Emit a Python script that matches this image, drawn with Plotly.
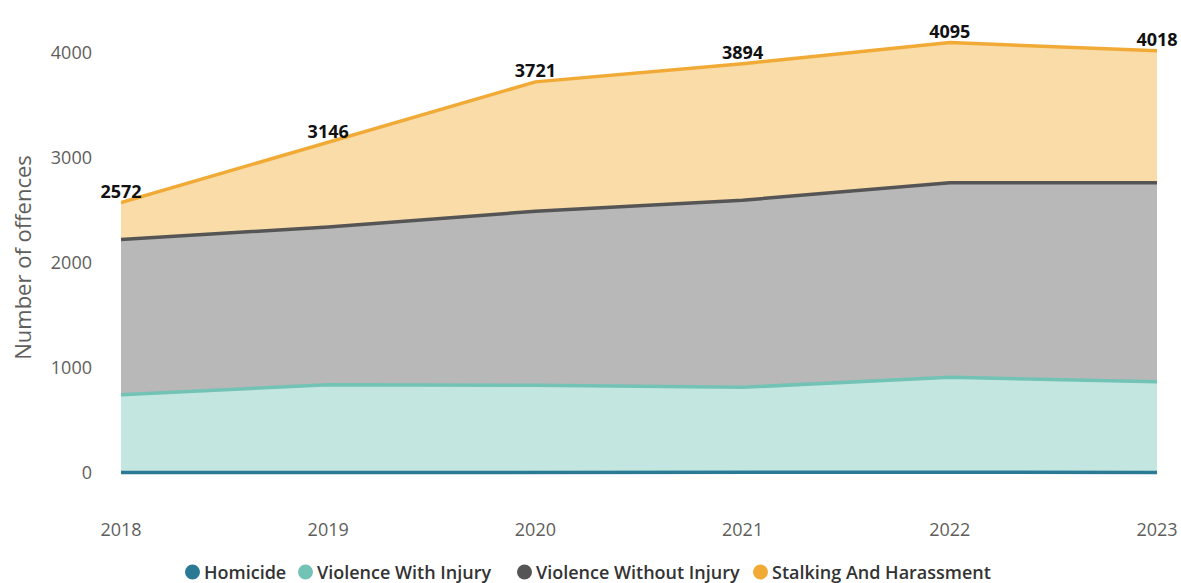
import plotly.graph_objects as go

years = [2018, 2019, 2020, 2021, 2022, 2023]
homicide = [4, 6, 5, 3, 7, 5]
violence_with_injury = [741, 834, 830, 812, 903, 863]
violence_without_injury = [1477, 1500, 1655, 1780, 1850, 1892]
stalking_harassment = [350, 806, 1231, 1299, 1335, 1258]
totals = [h + a + b + c for h, a, b, c in zip(homicide, violence_with_injury,
                                                violence_without_injury, stalking_harassment)]

series = [
    ("Homicide", homicide, "#2b7a95", "rgba(43,122,149,0.35)"),
    ("Violence With Injury", violence_with_injury, "#72c3b5", "#c4e6e0"),
    ("Violence Without Injury", violence_without_injury, "#555555", "#b8b8b8"),
    ("Stalking And Harassment", stalking_harassment, "#f0aa35", "#f9dca8"),
]

# legend layout (pixel x of each legend dot's left edge)
legend_dot_left_px = [185, 298, 517, 753]

W, H = 1181, 583
ML, MR, MT, MB = 121, 24, 21, 89
plot_w = W - ML - MR
plot_h = H - MT - MB

fig = go.Figure()
for i, (name, vals, lc, fc) in enumerate(series):
    last = i == len(series) - 1
    fig.add_trace(go.Scatter(
        x=years, y=vals, name=name, stackgroup="one",
        mode="lines+text" if last else "lines",
        line=dict(color=lc, width=3.5),
        fillcolor=fc,
        text=[str(t) for t in totals] if last else None,
        textposition="top center",
        textfont=dict(family="Open Sans, sans-serif", size=18, color="#111111", weight="bold"),
        showlegend=False,
        cliponaxis=False,
    ))

# custom compact legend: coloured dot + label
legend_y_px = 572
ly = (H - MB - legend_y_px) / plot_h
for (name, _, lc, _), dx in zip(series, legend_dot_left_px):
    px = (dx - ML) / plot_w
    fig.add_shape(type="circle", xref="paper", yref="paper",
                  xsizemode="pixel", ysizemode="pixel",
                  xanchor=px, yanchor=ly, x0=0, x1=15, y0=-7.5, y1=7.5,
                  fillcolor=lc, line=dict(width=0), layer="above")
    fig.add_annotation(
        text=name, xref="paper", yref="paper", x=(dx + 18 - ML) / plot_w, y=ly,
        xanchor="left", yanchor="middle", showarrow=False, borderpad=0,
        font=dict(family="Open Sans, sans-serif", size=18, color="#333333", weight=600),
    )

fig.update_layout(
    width=W, height=H,
    paper_bgcolor="white", plot_bgcolor="white",
    margin=dict(l=ML, r=MR, t=MT, b=MB),
    font=dict(family="Open Sans, sans-serif", color="#605e5c"),
    showlegend=False,
    xaxis=dict(range=[2018, 2023], tickvals=years, ticktext=[str(y) for y in years],
               showgrid=False, zeroline=False, showline=False, automargin=False,
               ticks="outside", ticklen=19, tickcolor="rgba(0,0,0,0)",
               tickfont=dict(size=18, color="#605e5c")),
    yaxis=dict(range=[-200, 4300], tickvals=[0, 1000, 2000, 3000, 4000],
               showgrid=False, zeroline=False, showline=False, automargin=False,
               ticklabelstandoff=28,
               tickfont=dict(size=18, color="#605e5c"),
               title=dict(text="Number of offences", font=dict(size=22, color="#605e5c"),
                          standoff=13)),
)

fig.write_html("out.html", config={"displayModeBar": False},
               post_script="document.body.style.margin='0';")
